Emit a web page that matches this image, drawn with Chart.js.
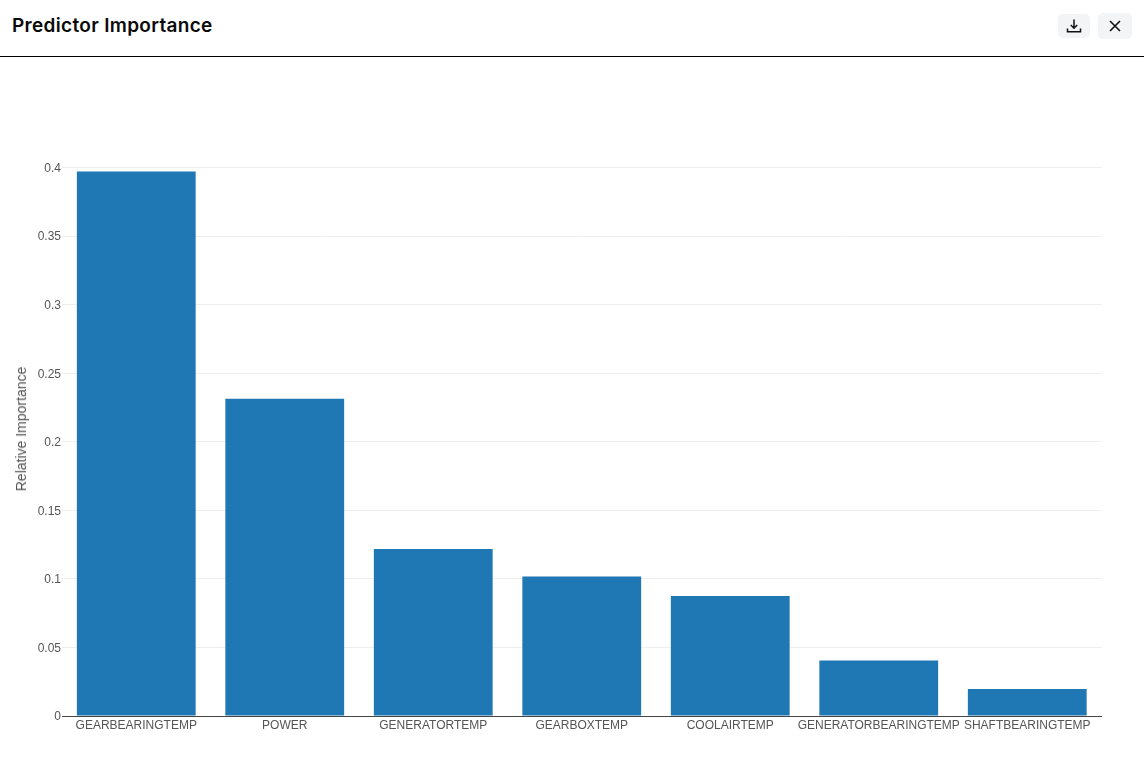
<!DOCTYPE html>
<html>
<head>
<meta charset="utf-8">
<title>Predictor Importance</title>
<script src="https://cdn.jsdelivr.net/npm/chart.js@4"></script>
<style>
  html, body { margin: 0; padding: 0; background: #fff; overflow: hidden; }
  .header {
    position: absolute; left: 0; top: 0; width: 1144px; height: 56px;
    border-bottom: 1px solid #000;
  }
  .header__title {
    position: absolute; left: 12px; top: 13px;
    font: 600 19px/26px Inter, sans-serif; letter-spacing: 0.32px; color: #0a0a0a;
  }
  .btn {
    position: absolute; background: #f3f4f6; border-radius: 5px;
    display: flex; align-items: center; justify-content: center;
  }
  .btn--download { left: 1058px; top: 14px; width: 32px; height: 24px; }
  .btn--close { left: 1098px; top: 13px; width: 34px; height: 26px; }
  .y-title {
    position: absolute; left: 21px; top: 429px; white-space: nowrap;
    transform: translate(-50%, -50%) rotate(-90deg);
    will-change: transform;
    font: 14px "Liberation Sans", Arial, sans-serif; color: #555;
  }
  .chart-box { position: absolute; left: 0; top: 57px; width: 1144px; height: 716px; }
</style>
</head>
<body>
<div class="header">
  <div class="header__title">Predictor Importance</div>
  <div class="btn btn--download">
    <svg width="16" height="16" viewBox="0 0 16 16" fill="none" stroke="#111" stroke-width="1.5">
      <path d="M8 1.5v8.5M4.8 7L8 10.2 11.2 7M1.5 10.5v3.2h13v-3.2"/>
    </svg>
  </div>
  <div class="btn btn--close">
    <svg width="14" height="14" viewBox="0 0 14 14" fill="none" stroke="#111" stroke-width="1.6">
      <path d="M2 2l10 10M12 2L2 12"/>
    </svg>
  </div>
</div>
<div class="y-title">Relative Importance</div>
<div class="chart-box"><canvas id="myChart" width="1144" height="716"></canvas></div>

<script>
const categories = [
  "GEARBEARINGTEMP",
  "POWER",
  "GENERATORTEMP",
  "GEARBOXTEMP",
  "COOLAIRTEMP",
  "GENERATORBEARINGTEMP",
  "SHAFTBEARINGTEMP",
];
const importance = [0.397, 0.2314, 0.1219, 0.1018, 0.0876, 0.0405, 0.0197];
const yTicks = [0, 0.05, 0.1, 0.15, 0.2, 0.25, 0.3, 0.35, 0.4];

const tickFont = { family: "'Liberation Sans', Arial, sans-serif", size: 12 };

const ctx = document.getElementById("myChart");

new Chart(ctx, {
  type: "bar",
  data: {
    labels: categories,
    datasets: [{
      data: importance,
      backgroundColor: "#1f77b4",
      borderWidth: 0,
      barPercentage: 0.8,
      categoryPercentage: 1,
    }],
  },
  options: {
    responsive: false,
    animation: false,
    devicePixelRatio: 1,
    // fractional paddings so the gridlines land on the same pixel rows
    layout: { padding: { top: 110.5, right: 42.5, bottom: 0, left: 0 } },
    plugins: { legend: { display: false }, tooltip: { enabled: false } },
    scales: {
      x: {
        grid: { display: false, drawTicks: false },
        border: { color: "#444", width: 1 },
        ticks: {
          color: "#555",
          font: tickFont,
          autoSkip: false,
          minRotation: 0,
          maxRotation: 0,
          padding: 2,
        },
        afterFit: (scale) => { scale.height = 56.94; },
      },
      y: {
        min: 0,
        max: 0.4,
        grid: { color: "#eeeeee", drawTicks: false },
        border: { display: false },
        afterBuildTicks: (scale) => {
          scale.ticks = yTicks.map((v) => ({ value: v }));
        },
        ticks: {
          color: "#555",
          font: tickFont,
          padding: 1,
          labelOffset: 1,
          callback: (value) => String(value),
        },
        afterFit: (scale) => { scale.width = 62; },
      },
    },
  },
});
</script>
</body>
</html>
